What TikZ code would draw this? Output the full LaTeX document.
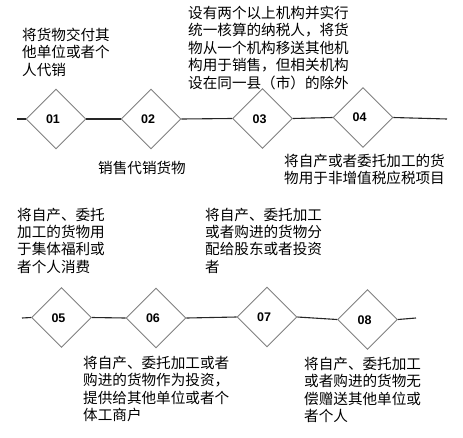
\documentclass[tikz,border=0pt]{standalone}
\usepackage{fontspec}
\newfontfamily\cjk{Noto Sans CJK SC}
\newfontfamily\numfont{Liberation Sans}
\usetikzlibrary{shapes.geometric}
\begin{document}
\begin{tikzpicture}[x=1pt,y=-1pt,
  dia/.style={diamond,aspect=1,draw=gray,line width=0.9pt,minimum width=60pt,minimum height=60pt,inner sep=0pt},
  num/.style={font=\numfont\bfseries\fontsize{12.5}{14}\selectfont,inner sep=0pt},
  txt/.style={font=\cjk\fontsize{14.6}{17.5}\selectfont,align=left,anchor=north west,inner sep=0pt},
  conn/.style={draw=black!85,line width=1.1pt}]
\useasboundingbox (0,0) rectangle (463,437);
% row 1
\coordinate (s1) at (17,119);
\coordinate (e1) at (447,119);
\node[dia] (d1) at (56,119) {};
\node[dia] (d2) at (151,119) {};
\node[dia] (d3) at (262.5,118.5) {};
\node[dia] (d4) at (363,117.5) {};
\draw[conn] (s1) -- (d1.west);
\draw[conn] (d1.east) -- (d2.west);
\draw[conn] (d2.east) -- (d3.west);
\draw[conn] (d3.east) -- (d4.west);
\draw[conn] (d4.east) -- (e1);
\node[num] (n1) at (53,119) {01};
\node[num] (n2) at (148,119) {02};
\node[num] (n3) at (259.5,119) {03};
\node[num] (n4) at (359.5,117) {04};
% row 2
\coordinate (s2) at (22,318);
\coordinate (e2) at (416,318);
\node[dia] (d5) at (61.5,317.5) {};
\node[dia] (d6) at (156,318) {};
\node[dia] (d7) at (267,317) {};
\node[dia] (d8) at (367.5,319.5) {};
\draw[conn] (s2) -- (d5.west);
\draw[conn] (d5.east) -- (d6.west);
\draw[conn] (d6.east) -- (d7.west);
\draw[conn] (d7.east) -- (d8.west);
\draw[conn] (d8.east) -- (e2);
\node[num] (n5) at (58.5,318) {05};
\node[num] (n6) at (153,318) {06};
\node[num] (n7) at (264,317) {07};
\node[num] (n8) at (364.5,320) {08};
% texts
\node[txt] (t1) at (22,27.5) {将货物交付其\\他单位或者个\\人代销};
\node[txt] (t2) at (98,160.5) {销售代销货物};
\node[txt] (t3) at (188,5.5) {设有两个以上机构并实行\\统一核算的纳税人，将货\\物从一个机构移送其他机\\构用于销售，但相关机构\\设在同一县（市）的除外};
\node[txt] (t4) at (284,153.5) {将自产或者委托加工的货\\物用于非增值税应税项目};
\node[txt] (t5) at (17,207.5) {将自产、委托\\加工的货物用\\于集体福利或\\者个人消费};
\node[txt] (t7) at (205,207.5) {将自产、委托加工\\或者购进的货物分\\配给股东或者投资\\者};
\node[txt] (t6) at (83,355.5) {将自产、委托加工或者\\购进的货物作为投资，\\提供给其他单位或者个\\体工商户};
\node[txt] (t8) at (304,356.5) {将自产、委托加工\\或者购进的货物无\\偿赠送其他单位或\\者个人};
\end{tikzpicture}
\end{document}
